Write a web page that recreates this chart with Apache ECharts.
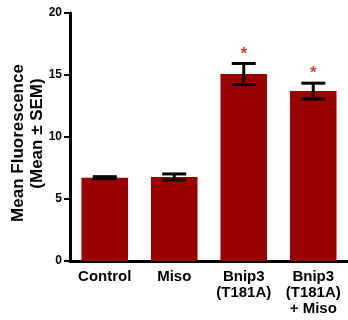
<!DOCTYPE html>
<html>
<head>
<meta charset="utf-8">
<script src="https://cdn.jsdelivr.net/npm/echarts@6/dist/echarts.min.js"></script>
<style>
  html, body { margin: 0; padding: 0; background: #fff; }
  #chart { width: 348px; height: 320px; }
</style>
</head>
<body>
<div id="chart"></div>
<script>
var categories = ['Control', 'Miso', 'Bnip3\n(T181A)', 'Bnip3\n(T181A)\n+ Miso'];
var means = [6.72, 6.78, 15.08, 13.7];
var sems = [0.08, 0.24, 0.85, 0.64];
var significant = [false, false, true, true];
var yTicks = [0, 5, 10, 15, 20];

var FONT = '"Liberation Sans", Arial, sans-serif';
var chartDom = document.getElementById('chart');
var myChart = echarts.init(chartDom);

var errData = [];
for (let i = 0; i < means.length; i++) {
  errData.push([i, means[i] - sems[i], means[i] + sems[i], significant[i] ? 1 : 0]);
}

function renderError(params, api) {
  var x = api.value(0);
  var lo = api.coord([x, api.value(1)]);
  var hi = api.coord([x, api.value(2)]);
  var half = 12;
  var style = { stroke: '#000', lineWidth: 3 };
  var children = [
    { type: 'line', shape: { x1: hi[0], y1: hi[1], x2: lo[0], y2: lo[1] }, style: style },
    { type: 'line', shape: { x1: hi[0] - half, y1: hi[1], x2: hi[0] + half, y2: hi[1] }, style: style },
    { type: 'line', shape: { x1: lo[0] - half, y1: lo[1], x2: lo[0] + half, y2: lo[1] }, style: style }
  ];
  if (api.value(3) === 1) {
    // significance star above the upper cap
    children.push({
      type: 'text',
      style: {
        x: hi[0], y: hi[1] - 1, text: '*', fill: '#dd3a40',
        font: 'bold 17px ' + FONT,
        align: 'center', verticalAlign: 'bottom'
      }
    });
  }
  return { type: 'group', children: children };
}

var option = {
  animation: false,
  grid: { left: 70, right: 0, top: 13, bottom: 59, outerBoundsMode: 'none', containLabel: false },
  xAxis: {
    type: 'category',
    data: categories,
    axisLine: { lineStyle: { color: '#000', width: 3 } },
    axisTick: { alignWithLabel: true, length: 5, lineStyle: { color: '#000', width: 2 } },
    axisLabel: {
      color: '#000', fontWeight: 'bold', fontSize: 15, lineHeight: 16, margin: 8,
      fontFamily: FONT, interval: 0
    }
  },
  yAxis: {
    type: 'value',
    min: yTicks[0],
    max: yTicks[yTicks.length - 1],
    interval: 5,
    name: '{a|Mean Fluorescence}\n{b|(Mean ± SEM)}',
    nameLocation: 'middle',
    nameGap: 23,
    nameMoveOverlap: false,
    nameTextStyle: {
      color: '#000', fontWeight: 'bold', fontSize: 17, lineHeight: 19,
      fontFamily: FONT,
      rich: {
        a: { color: '#000', fontWeight: 'bold', fontSize: 17, lineHeight: 19, fontFamily: FONT, padding: [0, 12, 0, 0] },
        b: { color: '#000', fontWeight: 'bold', fontSize: 17, lineHeight: 19, fontFamily: FONT, padding: [0, 0, 0, 7] }
      }
    },
    splitLine: { show: false },
    axisLine: { show: true, lineStyle: { color: '#000', width: 3 } },
    axisTick: { show: true, length: 6, lineStyle: { color: '#000', width: 2 } },
    axisLabel: {
      color: '#000', fontWeight: 'bold', fontSize: 12, margin: 8,
      fontFamily: FONT
    }
  },
  series: [
    {
      type: 'bar',
      data: means,
      barWidth: '67%',
      itemStyle: { color: '#9b0000' }
    },
    {
      type: 'custom',
      data: errData,
      renderItem: renderError,
      z: 5
    }
  ]
};

option && myChart.setOption(option);
</script>
</body>
</html>
